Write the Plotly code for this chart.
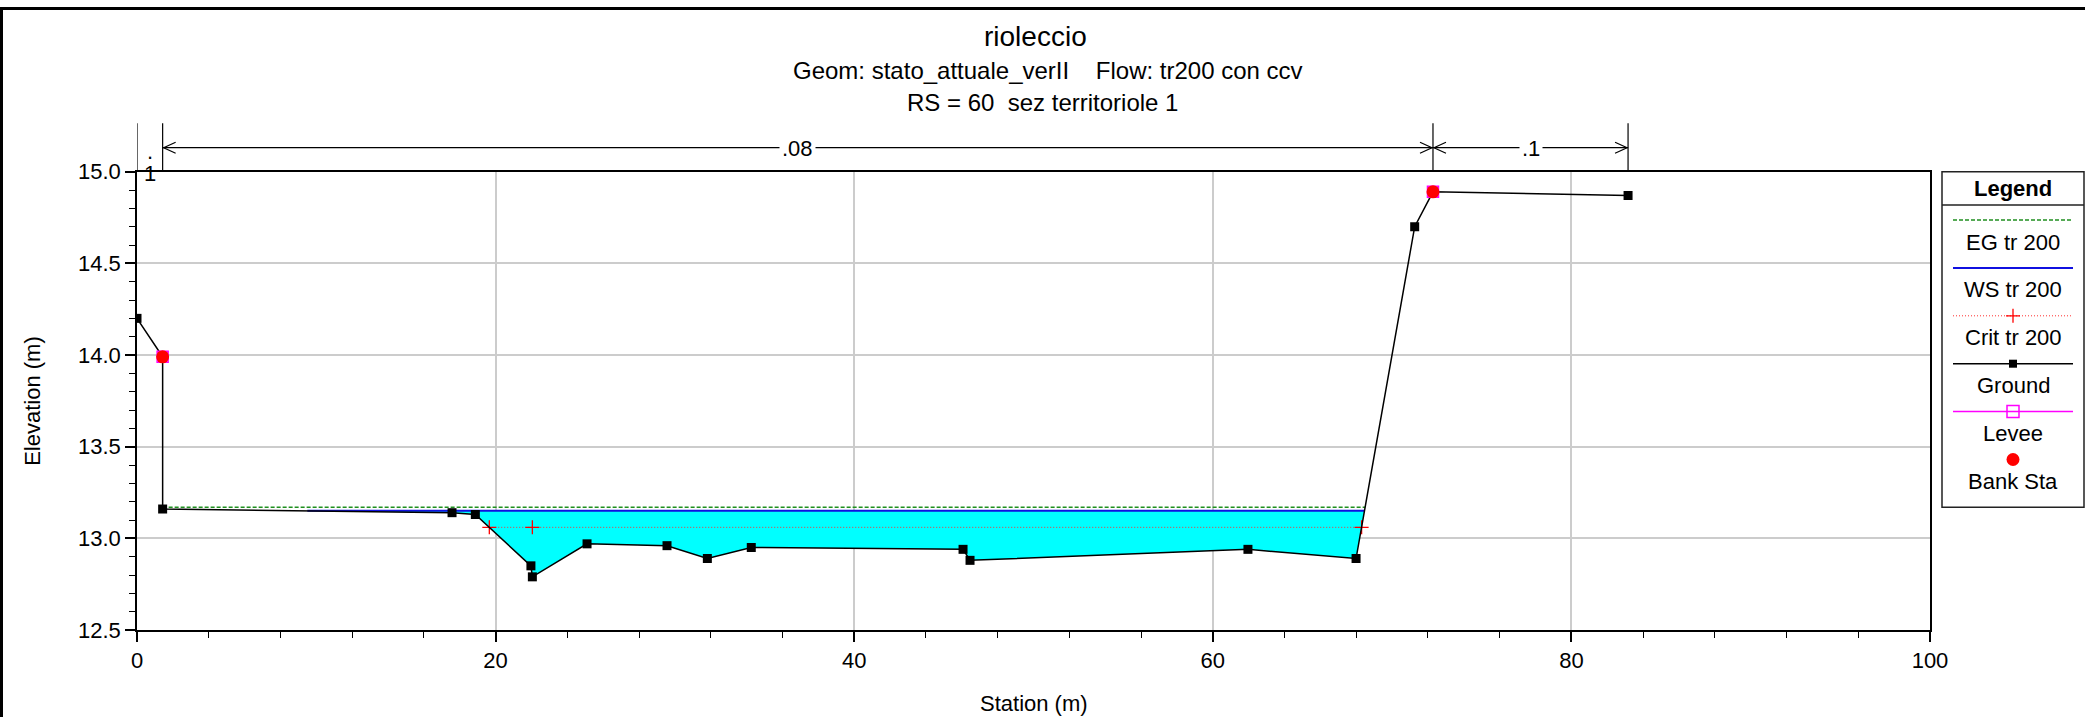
import plotly.graph_objects as go

W, H = 2085, 717

# ---------------- data ----------------
ground_x = [0.0, 1.43, 1.43, 17.57, 18.87, 21.97, 22.05, 25.10, 29.56, 31.81, 34.26,
            46.07, 46.46, 61.96, 67.99, 71.26, 72.28, 83.16]
ground_y = [14.20, 13.99, 13.16, 13.14, 13.13, 12.85, 12.79, 12.97, 12.96, 12.89, 12.95,
            12.94, 12.88, 12.94, 12.89, 14.70, 14.89, 14.87]
ws_elev = 13.15
eg_elev = 13.17
crit_elev = 13.06
crit_marker_x = [19.65, 22.05, 68.30]
bank_x = [1.43, 72.28]
bank_y = [13.99, 14.89]
levee_x = [1.43, 72.28]
levee_y = [13.99, 14.89]
n_bounds = [0.0, 1.43, 72.28, 83.16]
n_values = [".1", ".08", ".1"]
x_ticks = [0, 20, 40, 60, 80, 100]
y_ticks = [12.5, 13.0, 13.5, 14.0, 14.5, 15.0]
legend_labels = ["EG tr 200", "WS tr 200", "Crit tr 200", "Ground", "Levee", "Bank Sta"]
title_lines = ["rioleccio",
               "Geom: stato_attuale_verII\u00a0\u00a0\u00a0\u00a0Flow: tr200 con ccv",
               "RS = 60\u00a0\u00a0sez territoriole 1"]

# ---------------- layout geometry (pixels) ----------------
X0, X1 = 137.0, 1930.0      # plot left / right
YT, YB = 171.7, 630.0       # plot top / bottom
FONT = "Liberation Sans, Arial, sans-serif"


def px(x):
    return x / W


def py(y):
    return 1 - y / H


def crossings(xs, ys, level):
    out = []
    for i in range(len(xs) - 1):
        xa, ya, xb, yb = xs[i], ys[i], xs[i + 1], ys[i + 1]
        if (ya - level) * (yb - level) <= 0 and ya != yb:
            out.append(xa + (level - ya) * (xb - xa) / (yb - ya))
    return out


ws_cross = crossings(ground_x, ground_y, ws_elev)
eg_cross = crossings(ground_x, ground_y, eg_elev)
crit_cross = crossings(ground_x, ground_y, crit_elev)
xl, xr = min(ws_cross), max(ws_cross)
inner = [(x, y) for x, y in zip(ground_x, ground_y) if xl < x < xr]
poly_x = [xl] + [p[0] for p in inner] + [xr, xl]
poly_y = [ws_elev] + [p[1] for p in inner] + [ws_elev, ws_elev]

EG_LINE = dict(color="#1f8f1f", width=1.5, dash="4px,2px")
WS_LINE = dict(color="#1010e0", width=2)
CRIT_LINE = dict(color="#ff3030", width=1, dash="1px,2px")
CRIT_MARK = dict(symbol="cross-thin", size=10, line=dict(color="red", width=1.3))
GROUND_LINE = dict(color="black", width=1.5)
GROUND_MARK = dict(symbol="square", size=9, color="black")
LEVEE_MARK = dict(symbol="square-open", size=11, color="magenta", line=dict(color="magenta", width=1.5))
BANK_MARK = dict(symbol="circle", size=13, color="red")

fig = go.Figure()

# water fill
fig.add_trace(go.Scatter(x=poly_x, y=poly_y, fill="toself", fillcolor="#00FFFF",
                         mode="lines", line=dict(width=0), hoverinfo="skip"))
# EG
fig.add_trace(go.Scatter(x=[min(eg_cross), max(eg_cross)], y=[eg_elev, eg_elev], mode="lines",
                         line=EG_LINE))
# WS
fig.add_trace(go.Scatter(x=[xl, xr], y=[ws_elev, ws_elev], mode="lines", line=WS_LINE))
# Crit
fig.add_trace(go.Scatter(x=[min(crit_cross), max(crit_cross)], y=[crit_elev, crit_elev], mode="lines",
                         line=CRIT_LINE))
fig.add_trace(go.Scatter(x=crit_marker_x, y=[crit_elev] * len(crit_marker_x), mode="markers",
                         marker=CRIT_MARK))
# Ground
fig.add_trace(go.Scatter(x=ground_x, y=ground_y, mode="lines+markers",
                         line=GROUND_LINE, marker=GROUND_MARK))
# Levee
fig.add_trace(go.Scatter(x=levee_x, y=levee_y, mode="markers", marker=LEVEE_MARK))
# Bank stations
fig.add_trace(go.Scatter(x=bank_x, y=bank_y, mode="markers", marker=BANK_MARK))

# ---------------- legend (overlay axis in pixel units) ----------------
LX0, LX1 = 1942.0, 2084.0
LTOP, LHEAD, LBOT = 171.7, 205.0, 507.3
lx_a, lx_b = 1953.0, 2073.0
lxc = (LX0 + LX1) / 2
step = 47.9
sample_y = [220.0 + step * i for i in range(len(legend_labels))]

leg_styles = [
    (EG_LINE, None),
    (WS_LINE, None),
    (CRIT_LINE, CRIT_MARK),
    (GROUND_LINE, dict(symbol="square", size=8, color="black")),
    (dict(color="magenta", width=1.5), dict(symbol="square-open", size=12, color="magenta",
                                             line=dict(color="magenta", width=1.5))),
    (None, dict(symbol="circle", size=13, color="red")),
]
for i, (ln, mk) in enumerate(leg_styles):
    sy = sample_y[i]
    if ln is not None:
        fig.add_trace(go.Scatter(x=[lx_a, lx_b], y=[sy, sy], mode="lines", line=ln,
                                 xaxis="x2", yaxis="y2", hoverinfo="skip"))
    if mk is not None:
        fig.add_trace(go.Scatter(x=[lxc], y=[sy], mode="markers", marker=mk,
                                 xaxis="x2", yaxis="y2", hoverinfo="skip"))

shapes = []
annotations = []

# legend box
shapes.append(dict(type="rect", xref="paper", yref="paper", x0=px(LX0), x1=px(LX1),
                   y0=py(LTOP), y1=py(LBOT), line=dict(color="#222", width=1.5)))
shapes.append(dict(type="line", xref="paper", yref="paper", x0=px(LX0), x1=px(LX1),
                   y0=py(LHEAD), y1=py(LHEAD), line=dict(color="#222", width=1.5)))
annotations.append(dict(text="<b>Legend</b>", xref="paper", yref="paper", x=px(lxc),
                        y=py((LTOP + LHEAD) / 2), showarrow=False,
                        font=dict(family=FONT, size=22, color="black"),
                        xanchor="center", yanchor="middle"))
for i, lab in enumerate(legend_labels):
    annotations.append(dict(text=lab, xref="paper", yref="paper", x=px(lxc),
                            y=py(sample_y[i] + 22), showarrow=False,
                            font=dict(family=FONT, size=22, color="black"),
                            xanchor="center", yanchor="middle"))

# figure frame
shapes.append(dict(type="rect", xref="paper", yref="paper", x0=px(1.5), x1=px(W + 10),
                   y0=py(8.5), y1=py(H + 10), line=dict(color="black", width=3)))

# Manning's n bar
N_LINE, N_TOP = 147.7, 123.3
for b in n_bounds:
    shapes.append(dict(type="line", xref="x", yref="paper", x0=b, x1=b,
                       y0=py(YT), y1=py(N_TOP), line=dict(color="black", width=1.2)))
ppu = (X1 - X0) / 100.0
for i, val in enumerate(n_values):
    b0, b1 = n_bounds[i], n_bounds[i + 1]
    mid = (b0 + b1) / 2
    if (b1 - b0) * ppu > 40:
        shapes.append(dict(type="line", xref="x", yref="paper", x0=b0, x1=b1,
                           y0=py(N_LINE), y1=py(N_LINE), line=dict(color="black", width=1.2)))
        shapes.append(dict(type="path", xref="x", yref="paper", xsizemode="pixel", ysizemode="pixel",
                           xanchor=b0, yanchor=py(N_LINE), path="M 13 5.5 L 1 0 L 13 -5.5",
                           line=dict(color="black", width=1.2)))
        shapes.append(dict(type="path", xref="x", yref="paper", xsizemode="pixel", ysizemode="pixel",
                           xanchor=b1, yanchor=py(N_LINE), path="M -13 5.5 L -1 0 L -13 -5.5",
                           line=dict(color="black", width=1.2)))
        annotations.append(dict(text=val, xref="x", yref="paper", x=mid, y=py(N_LINE + 1),
                                showarrow=False, bgcolor="white", borderpad=2,
                                font=dict(family=FONT, size=22, color="black"),
                                xanchor="center", yanchor="middle"))
    else:
        annotations.append(dict(text=val[0], xref="x", yref="paper", x=mid, y=py(151),
                                showarrow=False, font=dict(family=FONT, size=22, color="black"),
                                xanchor="center", yanchor="middle"))
        annotations.append(dict(text=val[1:], xref="x", yref="paper", x=mid, y=py(173),
                                showarrow=False, font=dict(family=FONT, size=22, color="black"),
                                xanchor="center", yanchor="middle"))

# titles
title_y = [36, 71, 103]
title_x = [1035, 1048, 1042]
title_sizes = [28, 24, 24]
for t, xx, yy, sz in zip(title_lines, title_x, title_y, title_sizes):
    annotations.append(dict(text=t, xref="paper", yref="paper", x=px(xx), y=py(yy),
                            showarrow=False, font=dict(family=FONT, size=sz, color="black"),
                            xanchor="center", yanchor="middle"))

# axis titles
annotations.append(dict(text="Station (m)", xref="paper", yref="paper", x=px((X0 + X1) / 2), y=py(703),
                        showarrow=False, font=dict(family=FONT, size=22, color="black"),
                        xanchor="center", yanchor="middle"))
annotations.append(dict(text="Elevation (m)", xref="paper", yref="paper", x=px(33), y=py((YT + YB) / 2),
                        showarrow=False, textangle=-90, font=dict(family=FONT, size=22, color="black"),
                        xanchor="center", yanchor="middle"))

fig.update_layout(
    width=W, height=H,
    margin=dict(l=0, r=0, t=0, b=0, autoexpand=False),
    paper_bgcolor="white", plot_bgcolor="rgba(0,0,0,0)",
    showlegend=False,
    font=dict(family=FONT, size=22, color="black"),
    shapes=shapes, annotations=annotations,
    xaxis=dict(domain=[px(X0), px(X1)], range=[0, 100], tickvals=x_ticks,
               ticktext=[str(v) for v in x_ticks],
               ticks="outside", ticklen=10, tickwidth=1.5, tickcolor="black",
               showline=True, linecolor="black", linewidth=1.5, mirror=True,
               showgrid=True, gridcolor="#cccccc", gridwidth=1.5, zeroline=False,
               tickfont=dict(family=FONT, size=22, color="black"),
               minor=dict(dtick=4, tick0=0, ticks="outside", ticklen=6, tickcolor="black",
                          tickwidth=1, showgrid=False),
               anchor="y"),
    yaxis=dict(domain=[py(YB), py(YT)], range=[12.5, 15.0], tickvals=y_ticks,
               ticktext=["%.1f" % v for v in y_ticks],
               ticks="outside", ticklen=10, tickwidth=1.5, tickcolor="black",
               showline=True, linecolor="black", linewidth=1.5, mirror=True,
               showgrid=True, gridcolor="#cccccc", gridwidth=1.5, zeroline=False,
               tickfont=dict(family=FONT, size=22, color="black"),
               minor=dict(dtick=0.1, tick0=12.5, ticks="outside", ticklen=6, tickcolor="black",
                          tickwidth=1, showgrid=False),
               anchor="x"),
    xaxis2=dict(domain=[0, 1], range=[0, W], visible=False, anchor="y2", fixedrange=True),
    yaxis2=dict(domain=[0, 1], range=[H, 0], visible=False, anchor="x2", fixedrange=True),
)

fig.write_html("out.html")
